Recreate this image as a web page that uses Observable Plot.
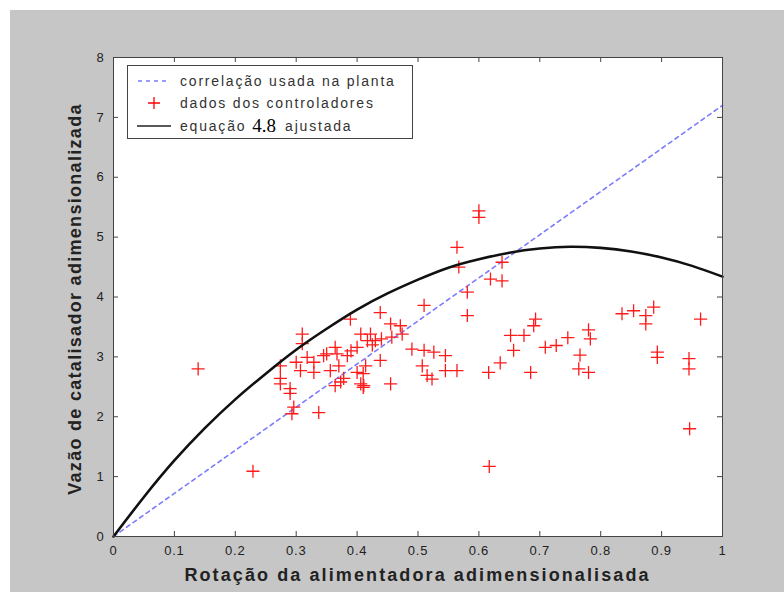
<!DOCTYPE html>
<html>
<head>
<meta charset="utf-8">
<script src="https://cdn.jsdelivr.net/npm/d3@7"></script>
<script src="https://cdn.jsdelivr.net/npm/@observablehq/plot@0.6"></script>
<style>
  html, body { margin: 0; padding: 0; background: #fff; }
  #fig { position: relative; width: 784px; height: 592px; font-family: "Liberation Sans", Arial, sans-serif; }
  #panel { position: absolute; left: 10px; top: 10px; width: 774px; height: 582px; background: #c6c6c6; }
  #chart { position: absolute; left: 0; top: 0; }
  .xtitle { position: absolute; left: 60px; width: 715px; top: 565px; text-align: center; font-weight: bold; font-size: 18px; letter-spacing: 2.1px; color: #222; white-space: nowrap; }
  .ytitle { position: absolute; left: 75px; top: 299px; width: 520px; margin-left: -260px; text-align: center; font-weight: bold; font-size: 18px; letter-spacing: 1.3px; color: #222; white-space: nowrap; transform: translateY(-50%) rotate(-90deg); }
  #legend { position: absolute; left: 127px; top: 65px; width: 286px; height: 74px; background: #fff; border: 1px solid #444; box-sizing: border-box; font-size: 14px; letter-spacing: 1.8px; color: #333; }
  #legend .row { position: absolute; left: 8px; height: 20px; display: flex; align-items: center; white-space: nowrap; }
  #legend svg { width: 36px; height: 14px; margin-right: 8px; }
  .serif { font-family: "Liberation Serif", "Times New Roman", serif; font-size: 19px; letter-spacing: 0; color: #000; margin: 0 9px 0 6px; }
</style>
</head>
<body>
<div id="fig">
  <div id="panel"></div>
  <div id="chart"></div>
  <div class="xtitle">Rotação da alimentadora adimensionalisada</div>
  <div class="ytitle">Vazão de catalisador adimensionalizada</div>
  <div id="legend">
    <div class="row" style="top:5px"><svg><line x1="2" y1="7" x2="34" y2="7" stroke="#7b7bff" stroke-width="1.6" stroke-dasharray="4,4"/></svg>correlação usada na planta</div>
    <div class="row" style="top:27px"><svg><path d="M18 1V13M12 7H24" stroke="red" stroke-width="1.3"/></svg>dados dos controladores</div>
    <div class="row" style="top:50px"><svg><line x1="1" y1="7" x2="35" y2="7" stroke="#222" stroke-width="1.3"/></svg>equação<span class="serif">4.8</span>ajustada</div>
  </div>
</div>
<script>
// Tick values for both axes
const xTicks = [0, 0.1, 0.2, 0.3, 0.4, 0.5, 0.6, 0.7, 0.8, 0.9, 1];
const yTicks = [0, 1, 2, 3, 4, 5, 6, 7, 8];

// Correlation used at the plant (straight line)
const correlacaoX = [0, 1];
const correlacaoY = [0, 7.2];

// Fitted equation 4.8
const ajusteX = [0, 0.05, 0.1, 0.15, 0.2, 0.25, 0.3, 0.35, 0.4, 0.45, 0.5, 0.55, 0.6, 0.65, 0.7, 0.75, 0.8, 0.85, 0.9, 0.95, 1];
const ajusteY = [0, 0.66, 1.27, 1.81, 2.29, 2.72, 3.12, 3.47, 3.79, 4.06, 4.29, 4.49, 4.63, 4.74, 4.81, 4.84, 4.82, 4.76, 4.66, 4.52, 4.34];

// Controller data: feeder rotation vs catalyst flow
const rotacao = [
  0.139, 0.229, 0.274, 0.274, 0.274, 0.290, 0.290, 0.296, 0.293, 0.337,
  0.300, 0.307, 0.310, 0.310, 0.318, 0.329, 0.329, 0.345, 0.356, 0.364,
  0.367, 0.364, 0.373, 0.378, 0.384, 0.389, 0.400, 0.400, 0.406, 0.406,
  0.411, 0.414, 0.410, 0.410, 0.417, 0.422, 0.430, 0.438, 0.438, 0.455,
  0.457, 0.455, 0.471, 0.474, 0.490, 0.510, 0.510, 0.507, 0.515, 0.523,
  0.526, 0.545, 0.545, 0.564, 0.564, 0.567, 0.581, 0.581, 0.600, 0.600,
  0.616, 0.617, 0.619, 0.638, 0.638, 0.635, 0.652, 0.657, 0.674, 0.685,
  0.690, 0.693, 0.709, 0.727, 0.746, 0.766, 0.764, 0.780, 0.783, 0.780,
  0.835, 0.854, 0.874, 0.874, 0.887, 0.893, 0.893, 0.945, 0.945, 0.946,
  0.964, 0.350, 0.370, 0.390, 0.425, 0.440
];
const vazao = [
  2.80, 1.09, 2.85, 2.64, 2.55, 2.47, 2.39, 2.16, 2.05, 2.07,
  2.91, 2.77, 3.38, 3.22, 2.99, 2.91, 2.74, 3.02, 2.77, 3.16,
  3.05, 2.52, 2.58, 2.64, 3.02, 3.63, 3.16, 2.74, 3.38, 2.55,
  2.52, 2.85, 2.72, 2.49, 3.27, 3.38, 3.27, 3.74, 2.94, 3.55,
  3.33, 2.55, 3.52, 3.38, 3.13, 3.11, 3.86, 2.85, 2.69, 2.63,
  3.08, 3.02, 2.77, 2.77, 4.83, 4.50, 4.08, 3.69, 5.44, 5.33,
  2.74, 1.17, 4.30, 4.27, 4.58, 2.90, 3.36, 3.11, 3.36, 2.74,
  3.52, 3.63, 3.16, 3.19, 3.32, 3.03, 2.80, 3.45, 3.30, 2.74,
  3.72, 3.77, 3.69, 3.55, 3.83, 3.08, 2.99, 2.97, 2.80, 1.80,
  3.63, 3.05, 2.85, 3.10, 3.20, 3.30
];

const correlacao = correlacaoX.map((x, i) => ({x, y: correlacaoY[i]}));
const ajuste = ajusteX.map((x, i) => ({x, y: ajusteY[i]}));
const dados = rotacao.map((x, i) => ({x, y: vazao[i]}));

const W = 784, H = 592;
const mL = 113, mR = 62, mT = 57, mB = 56;
const innerW = W - mL - mR, innerH = H - mT - mB;
const tickLen = 5;

const chart = Plot.plot({
  width: W,
  height: H,
  marginLeft: mL,
  marginRight: mR,
  marginTop: mT,
  marginBottom: mB,
  style: {background: "transparent", fontFamily: "'Liberation Sans', Arial, sans-serif", fontSize: "13px", color: "#222", letterSpacing: "0.8px"},
  x: {domain: [0, 1]},
  y: {domain: [0, 8]},
  marks: [
    Plot.frame({fill: "white", stroke: "none"}),
    Plot.line(correlacao, {x: "x", y: "y", stroke: "#7b7bff", strokeWidth: 1.6, strokeDasharray: "4,4"}),
    Plot.dot(dados, {x: "x", y: "y", symbol: "plus", r: 4.3, stroke: "#ff1a1a", strokeWidth: 1.3}),
    Plot.line(ajuste, {x: "x", y: "y", stroke: "#111", strokeWidth: 2.6, curve: "natural"}),
    // inward ticks on all four sides
    Plot.tickX(xTicks, {x: d => d, stroke: "#444", insetTop: innerH - tickLen}),
    Plot.tickX(xTicks, {x: d => d, stroke: "#444", insetBottom: innerH - tickLen}),
    Plot.tickY(yTicks, {y: d => d, stroke: "#444", insetRight: innerW - tickLen}),
    Plot.tickY(yTicks, {y: d => d, stroke: "#444", insetLeft: innerW - tickLen}),
    Plot.frame({stroke: "#444", strokeWidth: 1}),
    Plot.axisX({ticks: xTicks, tickSize: 0, tickPadding: 9, tickFormat: d => String(d), label: null, fill: "#222"}),
    Plot.axisY({ticks: yTicks, tickSize: 0, tickPadding: 9, tickFormat: d => String(d), label: null, fill: "#222"})
  ]
});
document.getElementById("chart").appendChild(chart);
</script>
</body>
</html>
